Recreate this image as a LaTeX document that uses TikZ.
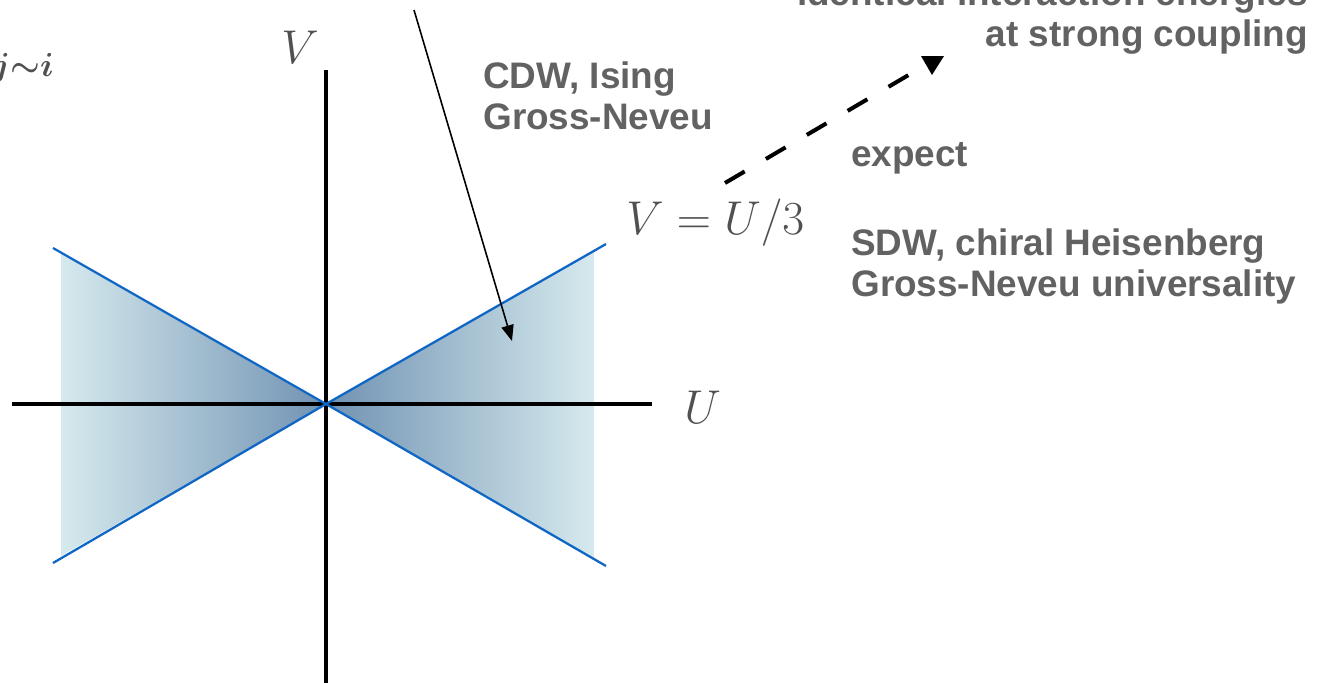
\RequirePackage{fix-cm}
\documentclass[tikz,border=0pt]{standalone}
\usepackage{fontspec}
\usepackage{amsmath, amssymb}
\usepackage{tikz}
\usetikzlibrary{positioning, arrows.meta, calc}
\newfontfamily\labelfont{Liberation Sans}
\definecolor{coneDark}{RGB}{112,146,178}
\definecolor{coneLight}{RGB}{214,234,238}
\definecolor{coneLine}{RGB}{16,102,196}
\definecolor{textGray}{RGB}{98,98,98}
\definecolor{mathGray}{RGB}{80,80,80}

\begin{document}
\begin{tikzpicture}[
        x=0.02cm, y=-0.02cm,
        >=Stealth,
        axis/.style={draw=black, line width=2pt},
        boundary/.style={draw=coneLine, line width=1.3pt},
        remark/.style={font=\fontsize{21}{23.5}\selectfont\labelfont\bfseries,
                       text=textGray, inner sep=0pt, align=left},
        axlabel/.style={font=\fontsize{27}{30}\selectfont, text=mathGray,
                        inner sep=0pt},
        pointer/.style={->, line width=0.9pt, draw=black,
                        >={Triangle[length=9pt, width=7pt]}},
        hint/.style={line width=2.3pt, draw=black, dash pattern=on 13pt off 14pt},
      ]
      \useasboundingbox (0,0) rectangle (1326,683);
      % coordinates of the U-V plane
      \coordinate (O) at (326,404);
      \coordinate (upR) at (606,244);
      \coordinate (dnR) at (606,566);
      \coordinate (upL) at (53,248);
      \coordinate (dnL) at (53,563);
      % shaded regions
      \shade[left color=coneDark, right color=coneLight]
        (O) -- (594,250) -- (594,558) -- cycle;
      \shade[left color=coneLight, right color=coneDark]
        (O) -- (61,252) -- (61,556) -- cycle;
      % axes
      \coordinate (uStart) at (12,404);
      \coordinate (uEnd) at (652,404);
      \coordinate (vStart) at (326,683);
      \coordinate (vEnd) at (326,70);
      \draw[axis] (uStart) -- (uEnd);
      \draw[axis] (vStart) -- (vEnd);
      % boundaries V = +-U/3
      \draw[boundary] (upL) -- (O) -- (dnR);
      \draw[boundary] (dnL) -- (O) -- (upR);
      % labels
      \node[axlabel, anchor=base] (vlab) at (300,63) {$V$};
      \node[axlabel, anchor=base west] (ulab) at (684,423) {$U$};
      \node[axlabel, anchor=base west] (line) at (626,234) {$V=U/3$};
      \node[font=\fontsize{19}{22}\selectfont\boldmath, text=mathGray,
            inner sep=0pt, anchor=base east] (sum) at (54,76) {$j{\sim}i$};
      \node[remark, anchor=north west] (cdw) at (483,61) {CDW, Ising\\Gross-Neveu};
      \node[remark, anchor=base west] (expect) at (851,166) {expect};
      \node[remark, anchor=north west] (sdw) at (851,228)
        {SDW, chiral Heisenberg\\Gross-Neveu universality};
      \node[remark, align=right, anchor=south east] (strong) at (1308,55)
        {identical interaction energies\\at strong coupling};
      % arrows
      \coordinate (cdwTail) at (414,10);
      \coordinate (cdwTip) at (512,341);
      \draw[pointer] (cdwTail) -- (cdwTip);
      \coordinate (hintTail) at (725,183);
      \coordinate (hintHead) at (912,73);
      \draw[hint] (hintTail) -- (hintHead);
      \fill (921,56) -- (944,56) -- (932,75) -- cycle;
    \end{tikzpicture}
\end{document}
